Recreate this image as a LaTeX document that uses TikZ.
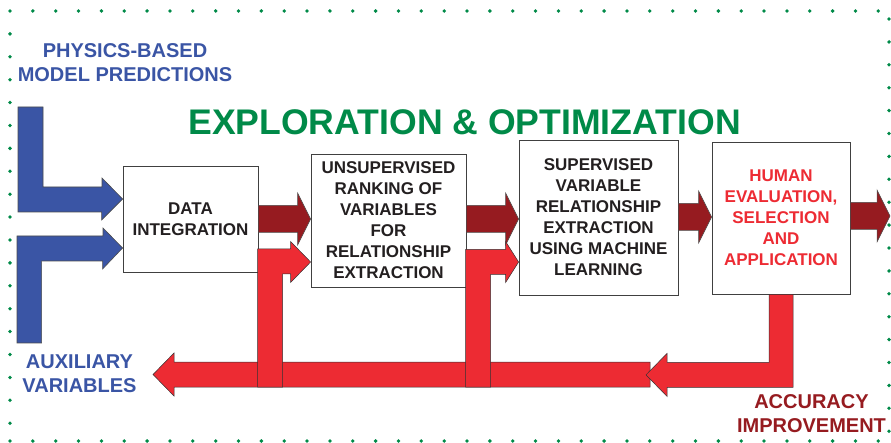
\documentclass[tikz,border=0pt]{standalone}
\usepackage{fontspec}
\setmainfont{Liberation Sans}
\usetikzlibrary{calc}
\definecolor{ModelBlue}{RGB}{58,85,165}
\definecolor{OptGreen}{RGB}{0,138,72}
\definecolor{FlowRed}{RGB}{150,27,32}
\definecolor{LoopRed}{RGB}{237,43,51}
\definecolor{BoxText}{RGB}{35,31,32}
\def\ModelBlue{ModelBlue}
\def\LoopRed{LoopRed}

% block arrow: style, from node, to node, level
\newcommand{\flowstep}[4]{%
  \draw[#1] ($(#2 |- 0,#4)+(0,-13.5)$) -- ($(#3 |- 0,#4)+(-13,-13.5)$) -- ++(0,-12.5)
    -- (#3 |- 0,#4) -- ++(-13,26) -- ++(0,-12.5) -- ($(#2 |- 0,#4)+(0,13.5)$) -- cycle;}

\begin{document}
\begin{tikzpicture}
    [x=1pt,y=-1pt,
    stage/.style={draw=black!75,line width=0.8pt,fill=white,align=center,inner sep=0pt,
      text=BoxText,font=\fontsize{17}{21}\selectfont\bfseries},
    lbl/.style={align=center,font=\fontsize{20}{24}\selectfont\bfseries},
    flow/.style={fill=FlowRed,draw=black!70,line width=0.5pt},
    loop/.style={fill=\LoopRed,draw=black!80,line width=0.5pt},
    feed/.style={fill=\ModelBlue,draw=black!70,line width=0.6pt},
    ]
    \useasboundingbox (0,0) rectangle (891,443);
    % dotted frame
    \foreach \i in {0,...,38} {
      \fill[OptGreen] (10+22.85*\i,11) circle (1.9);
      \fill[OptGreen] (10+22.85*\i,441) circle (1.9);
    }
    \foreach \i in {1,...,18} \fill[OptGreen] (10,11+22.9*\i) circle (1.9);
    \foreach \i in {0,...,18} \fill[OptGreen] (889,19+22.9*\i) circle (1.9);

    \node[text=OptGreen,font=\fontsize{35.6}{40}\selectfont\bfseries] (title) at (464.5,122.5) {EXPLORATION \& OPTIMIZATION};
    \node[lbl,text=\ModelBlue] (physics) at (125,63) {PHYSICS-BASED\\MODEL PREDICTIONS};
    \node[lbl,text=\ModelBlue] (aux) at (79.5,374) {AUXILIARY\\VARIABLES};
    \node[lbl,text=FlowRed] (accuracy) at (811.5,413.5) {ACCURACY\\IMPROVEMENT};

    \node[stage,minimum width=135,minimum height=106] (data) at (190.5,219) {DATA\\INTEGRATION};
    \node[stage,minimum width=155,minimum height=133] (rank) at (388.5,220.5)
      {UNSUPERVISED\\RANKING OF\\VARIABLES\\FOR\\RELATIONSHIP\\EXTRACTION};
    \node[stage,minimum width=159,minimum height=155] (learn) at (598.5,217.5)
      {SUPERVISED\\VARIABLE\\RELATIONSHIP\\EXTRACTION\\USING MACHINE\\LEARNING};
    \node[stage,minimum width=138,minimum height=152,text=\LoopRed] (human) at (781,218)
      {HUMAN\\EVALUATION,\\SELECTION\\AND\\APPLICATION};

    \coordinate (physin) at (18,107);
    \coordinate (auxin) at (17,343);
    \coordinate (auxtip) at (153,374.5);
    \coordinate (out) at (890,216);

    % inputs
    \draw[feed] (physin) -- ++(25,0) |- ++(59,80) -- ++(0,-9) -- (data.west |- 0,199)
      -- ++(-21,21) -- ++(0,-8) -- (physin |- 0,212) -- cycle;
    \draw[feed] (auxin) -- ++(0,-107) -- ++(86,0) -- ++(0,-8) -- (data.west |- 0,248)
      -- ++(-20,21) -- ++(0,-8) -- ++(-61,0) -- ++(0,82) -- cycle;

    % forward chain
    \flowstep{flow}{data.east}{rank.west}{219}
    \flowstep{flow}{rank.east}{learn.west}{219}
    \flowstep{flow}{learn.east}{human.west}{217}
    \flowstep{flow}{human.east}{out}{216}

    % feedback loop
    \draw[loop] (auxtip) -- ++(21,-21.5) -- ++(0,9) -- ++(476,0) -- ++(0,25) -- ++(-476,0) -- ++(0,9) -- cycle;
    \draw[loop] (human.south) ++(-12,0) -- ++(24,0) -- ++(0,93) -- ++(-126,0) -- ++(0,9)
      -- ++(-21,-21.5) -- ++(21,-21.5) -- ++(0,9) -- ++(102,0) -- cycle;
    \draw[loop] (rank.west |- 0,262) -- ++(-20,-20.5) -- ++(0,7.5) -- ++(-33,0) -- ++(0,138)
      -- ++(25,0) -- ++(0,-113) -- ++(8,0) -- ++(0,8.5) -- cycle;
    \draw[loop] (learn.west |- 0,262) -- ++(-13,-20.5) -- ++(0,8) -- ++(-40,0) -- ++(0,137.5)
      -- ++(25,0) -- ++(0,-112.5) -- ++(15,0) -- ++(0,8) -- cycle;
  \end{tikzpicture}
\end{document}
